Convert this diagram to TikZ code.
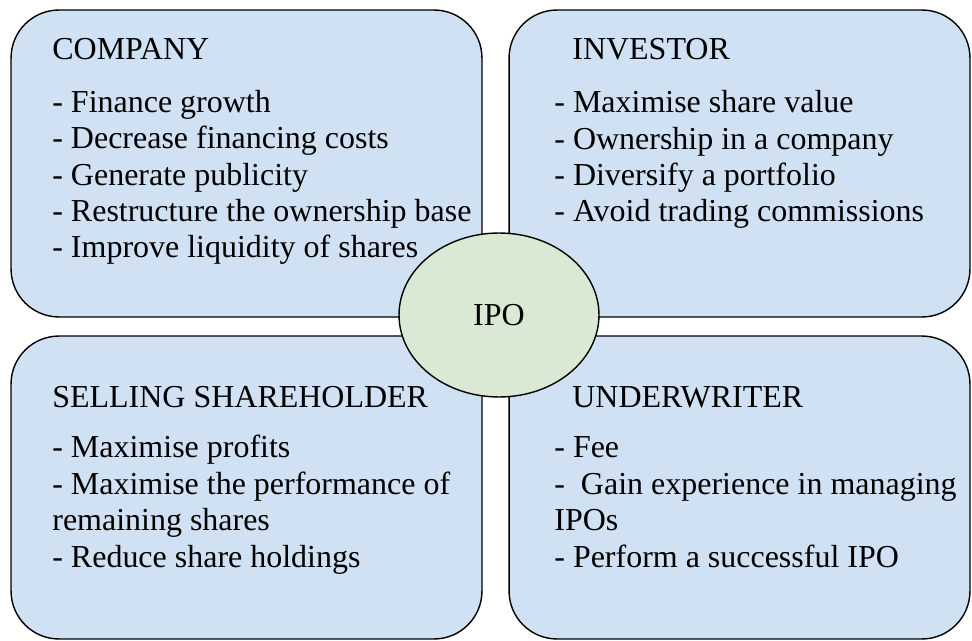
\documentclass[tikz,border=0pt]{standalone}
\usepackage{fontspec}
\setmainfont{Liberation Serif}
\usetikzlibrary{shapes.geometric}

\definecolor{partblue}{RGB}{207,225,242}
\definecolor{ipogreen}{RGB}{217,233,211}

\tikzset{
    party/.style={draw=black, line width=0.8pt, fill=partblue, rounded corners=0.96cm, inner sep=0pt},
    head/.style={anchor=base west, inner sep=0pt, font=\fontsize{18.2}{20.7}\selectfont},
    % goals are placed by the baseline of their last line
    goals/.style={anchor=base west, inner sep=0pt, align=left, font=\fontsize{18.2}{20.7}\selectfont},
}

\begin{document}
\begin{tikzpicture}[x=0.02cm, y=-0.02cm]
    \useasboundingbox (0,0) rectangle (972,641);

    % the four parties
    \node[party, minimum width=9.42cm, minimum height=6.14cm] (company) at (246.5,163.5) {};
    \node[party, minimum width=9.22cm, minimum height=6.14cm] (investor) at (739.5,163.5) {};
    \node[party, minimum width=9.42cm, minimum height=6.06cm] (seller) at (246.5,487.5) {};
    \node[party, minimum width=9.22cm, minimum height=6.06cm] (underwriter) at (739.5,487.5) {};

    \node[head] (company-head) at (52,60) {COMPANY};
    \node[goals] (company-goals) at (52,258) {- Finance growth\\- Decrease financing costs\\- Generate publicity\\- Restructure the ownership base\\- Improve liquidity of shares};

    \node[head] (investor-head) at (572,60) {INVESTOR};
    \node[goals] (investor-goals) at (554,222) {- Maximise share value\\- Ownership in a company\\- Diversify a portfolio\\- Avoid trading commissions};

    \node[head] (seller-head) at (52,407) {SELLING SHAREHOLDER};
    \node[goals] (seller-goals) at (52,567) {- Maximise profits\\- Maximise the performance of\\remaining shares\\- Reduce share holdings};

    \node[head] (underwriter-head) at (572,407) {UNDERWRITER};
    \node[goals] (underwriter-goals) at (554,567) {- Fee\\-\ \ Gain experience in managing\\IPOs\\- Perform a successful IPO};

    % the offering in the middle
    \node[ellipse, draw=black, line width=0.8pt, fill=ipogreen, minimum width=4cm, minimum height=3.28cm,
          font=\fontsize{18.2}{20.7}\selectfont] (ipo) at (499,315) {IPO};
\end{tikzpicture}
\end{document}
